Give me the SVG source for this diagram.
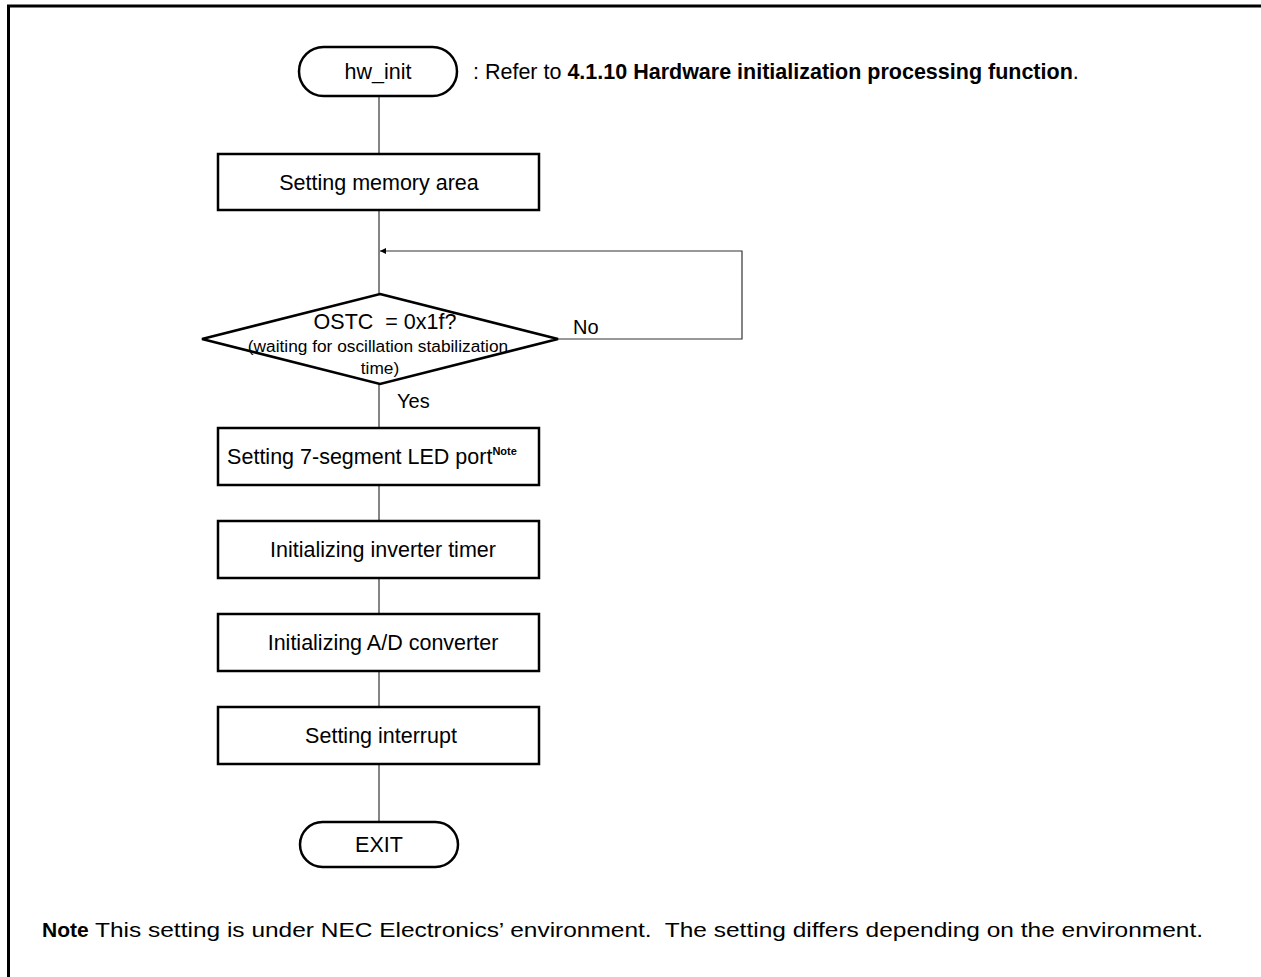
<svg xmlns="http://www.w3.org/2000/svg" width="1261" height="977" viewBox="0 0 1261 977">
  <style>
    .box { fill: #fff; stroke: #000; stroke-width: 2.5; }
    .wire { fill: none; stroke: #333; stroke-width: 1.2; }
    .frame { fill: none; stroke: #000; stroke-width: 3; }
    text { font-family: "Liberation Sans", Arial, sans-serif; fill: #000; }
    .lbl { font-size: 21.5px; text-anchor: middle; }
    .sm { font-size: 17.3px; text-anchor: middle; }
    .yn { font-size: 20px; }
    .note { font-size: 21px; }
  </style>
  <defs>
    <marker id="arrow" viewBox="0 0 10 10" refX="10" refY="5" markerWidth="12" markerHeight="6" markerUnits="userSpaceOnUse" orient="auto">
      <path d="M0,0 L10,5 L0,10 z" fill="#000"/>
    </marker>
  </defs>

  <!-- page frame: top and left rules -->
  <path class="frame" d="M8.5,977 V6 H1261"/>

  <!-- connectors -->
  <g id="connectors">
    <line class="wire" x1="379" y1="97" x2="379" y2="154"/>
    <line class="wire" x1="379" y1="210" x2="379" y2="294"/>
    <path class="wire" d="M558,339 H742 V251 H380" marker-end="url(#arrow)"/>
    <line class="wire" x1="379" y1="384" x2="379" y2="428"/>
    <line class="wire" x1="379" y1="485" x2="379" y2="521"/>
    <line class="wire" x1="379" y1="578" x2="379" y2="614"/>
    <line class="wire" x1="379" y1="671" x2="379" y2="707"/>
    <line class="wire" x1="379" y1="764" x2="379" y2="822"/>
  </g>

  <g id="start">
    <rect class="box" x="299" y="47" width="158" height="49" rx="24.5"/>
    <text class="lbl" x="378" y="79">hw_init</text>
  </g>
  <text id="start-ref" x="473" y="79" style="font-size:21.5px">: Refer to <tspan font-weight="bold">4.1.10 Hardware initialization processing function</tspan>.</text>

  <g id="mem">
    <rect class="box" x="218" y="154" width="321" height="56"/>
    <text class="lbl" x="379" y="190">Setting memory area</text>
  </g>

  <g id="ostc">
    <polygon class="box" points="380,294 558,339 380,384 202,339"/>
    <text class="lbl" x="385" y="329" xml:space="preserve">OSTC  = 0x1f?</text>
    <text class="sm" x="378" y="352">(waiting for oscillation stabilization</text>
    <text class="sm" x="380" y="374">time)</text>
  </g>
  <text id="no" class="yn" x="573" y="334">No</text>
  <text id="yes" class="yn" x="397" y="408">Yes</text>

  <g id="led">
    <rect class="box" x="218" y="428" width="321" height="57"/>
    <text class="lbl" x="372" y="464">Setting 7-segment LED port<tspan dy="-9" style="font-size:11px;font-weight:bold">Note</tspan></text>
  </g>

  <g id="timer">
    <rect class="box" x="218" y="521" width="321" height="57"/>
    <text class="lbl" x="383" y="557">Initializing inverter timer</text>
  </g>

  <g id="adc">
    <rect class="box" x="218" y="614" width="321" height="57"/>
    <text class="lbl" x="383" y="650">Initializing A/D converter</text>
  </g>

  <g id="intr">
    <rect class="box" x="218" y="707" width="321" height="57"/>
    <text class="lbl" x="381" y="743">Setting interrupt</text>
  </g>

  <g id="exit">
    <rect class="box" x="300" y="822" width="158" height="45" rx="22.5"/>
    <text class="lbl" x="379" y="852">EXIT</text>
  </g>

  <g id="footnote">
    <text class="note" x="42" y="937" font-weight="bold">Note</text>
    <text class="note" x="95" y="937" textLength="1108" lengthAdjust="spacingAndGlyphs" xml:space="preserve">This setting is under NEC Electronics’ environment.  The setting differs depending on the environment.</text>
  </g>
</svg>
